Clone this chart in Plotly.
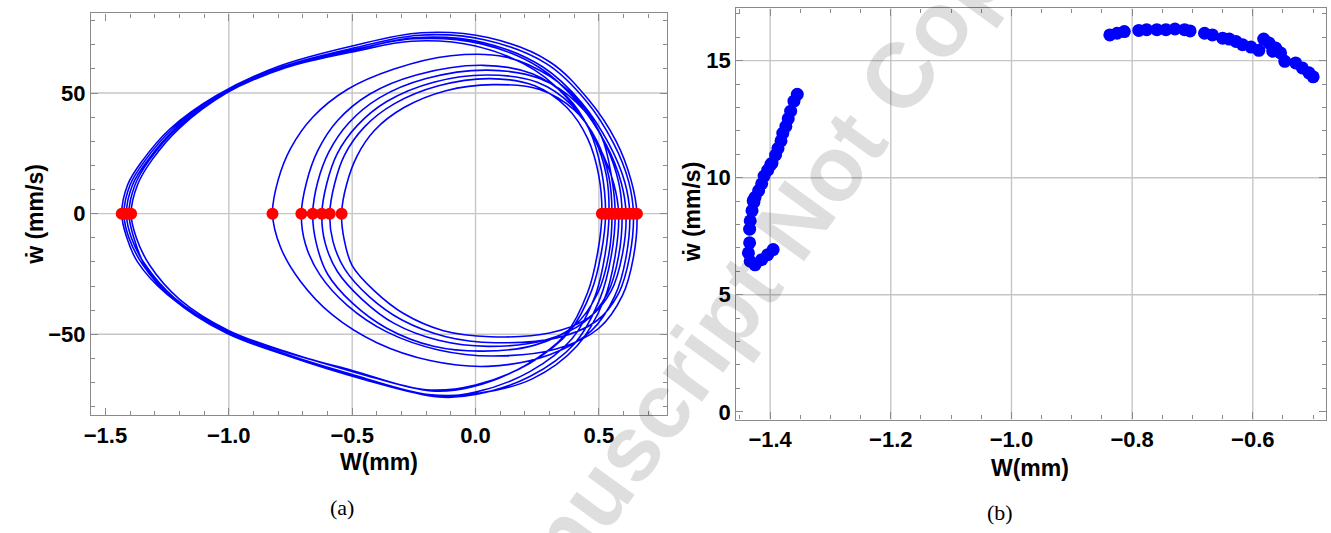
import plotly.graph_objects as go

# ---------------- (a) phase portrait ----------------
# turning points of the orbit (where dW/dt = 0), in the order the orbit visits them
turn_left = [-1.434, -0.706, -1.415, -0.591, -1.396, -0.823, -0.623, -1.425, -0.543, -0.660, -1.405]
turn_right = [0.654, 0.527, 0.640, 0.512, 0.625, 0.594, 0.541, 0.610, 0.553, 0.566, 0.580]

# upper half-orbits: (W, dW/dt) points between turn_left[i] and turn_right[i]
upper_arcs = [
    [(-1.41, 12), (-1.35, 22), (-1.24, 35), (-1.05, 49), (-0.80, 61), (-0.50, 69.5), (-0.22, 75), (0.05, 73), (0.30, 63), (0.46, 47), (0.57, 30), (0.63, 14)],
    [(-0.685, 13), (-0.64, 26), (-0.56, 38.5), (-0.43, 49.5), (-0.24, 57.5), (0.03, 61.5), (0.23, 58), (0.37, 48.5), (0.46, 35), (0.51, 18)],
    [(-1.39, 12), (-1.33, 22), (-1.22, 35), (-1.03, 49.5), (-0.78, 61), (-0.48, 69), (-0.23, 74), (0.04, 72), (0.29, 62), (0.45, 46.5), (0.56, 29), (0.62, 13.5)],
    [(-0.571, 12.5), (-0.53, 24.5), (-0.45, 36), (-0.33, 45.5), (-0.15, 53), (0.06, 56), (0.24, 53), (0.37, 44), (0.455, 31), (0.50, 15.5)],
    [(-1.37, 12), (-1.31, 22.5), (-1.20, 35.5), (-1.01, 50), (-0.76, 61.5), (-0.47, 68.5), (-0.24, 73), (0.03, 71), (0.27, 61), (0.43, 46), (0.54, 29), (0.605, 13)],
    [(-0.80, 14), (-0.75, 27), (-0.66, 40), (-0.52, 51.5), (-0.33, 60), (-0.10, 65.5), (0.12, 65), (0.30, 57), (0.44, 44), (0.53, 28), (0.58, 13)],
    [(-0.603, 12.5), (-0.56, 25), (-0.48, 36.5), (-0.36, 46.5), (-0.17, 54.5), (0.05, 57.5), (0.25, 54.5), (0.39, 45), (0.48, 31.5), (0.53, 16)],
    [(-1.40, 12), (-1.34, 22), (-1.23, 35), (-1.04, 49), (-0.79, 60.5), (-0.49, 68), (-0.25, 72.5), (0.02, 70.5), (0.26, 60.5), (0.42, 45.5), (0.53, 28.5), (0.59, 13)],
    [(-0.523, 12), (-0.48, 24), (-0.41, 34.5), (-0.29, 44), (-0.12, 51), (0.07, 53.5), (0.26, 51.5), (0.40, 43), (0.49, 30.5), (0.54, 15.5)],
    [(-0.64, 13), (-0.595, 25.5), (-0.515, 37.5), (-0.39, 48), (-0.20, 56), (0.05, 59.5), (0.26, 56), (0.41, 46), (0.51, 32), (0.55, 16)],
    [(-1.38, 12), (-1.32, 22.5), (-1.21, 35.5), (-1.02, 49.5), (-0.77, 60.5), (-0.48, 67.5), (-0.26, 71.5), (0.0, 69.5), (0.24, 59.5), (0.40, 44.5), (0.50, 28), (0.56, 12.5)],
]

# lower half-orbits: points between turn_right[i] and the next left turning point
lower_arcs = [
    [(0.64, -18), (0.595, -34), (0.50, -47.5), (0.33, -56), (0.07, -59), (-0.15, -56.5), (-0.36, -49), (-0.52, -38), (-0.63, -25.5), (-0.69, -12.5)],
    [(0.51, -16), (0.47, -32), (0.38, -49), (0.22, -62), (0.0, -71), (-0.2, -73), (-0.5, -65), (-0.78, -57), (-1.02, -48), (-1.22, -35), (-1.34, -21), (-1.395, -10)],
    [(0.625, -17.5), (0.58, -33), (0.49, -44.5), (0.33, -51.5), (0.08, -53.5), (-0.12, -51), (-0.30, -44), (-0.43, -34.5), (-0.53, -23), (-0.578, -11.5)],
    [(0.495, -16), (0.455, -32.5), (0.365, -50), (0.20, -63), (-0.02, -72), (-0.18, -73.5), (-0.48, -66), (-0.76, -57.5), (-1.00, -48.5), (-1.20, -35.5), (-1.32, -21.5), (-1.375, -10)],
    [(0.61, -18), (0.565, -34), (0.47, -48.5), (0.30, -58.5), (0.05, -63.3), (-0.18, -61), (-0.40, -53.5), (-0.58, -42), (-0.71, -28), (-0.79, -14)],
    [(0.58, -17.5), (0.535, -33), (0.44, -45), (0.28, -52.5), (0.05, -55), (-0.15, -52.5), (-0.33, -45.5), (-0.46, -35.5), (-0.56, -24), (-0.61, -12)],
    [(0.525, -17), (0.485, -34), (0.39, -52), (0.22, -65.5), (0.0, -74), (-0.16, -75.5), (-0.47, -68), (-0.77, -58.5), (-1.02, -49), (-1.23, -35), (-1.35, -21), (-1.405, -10)],
    [(0.595, -17), (0.55, -32), (0.46, -43), (0.30, -49.5), (0.06, -51), (-0.13, -48.5), (-0.29, -41.5), (-0.41, -32), (-0.50, -21.5), (-0.532, -11)],
    [(0.54, -17), (0.495, -33), (0.40, -46.5), (0.24, -54.5), (0.03, -57), (-0.17, -55), (-0.36, -47.5), (-0.50, -37), (-0.60, -25), (-0.645, -12.5)],
    [(0.55, -17.5), (0.505, -35), (0.40, -54), (0.22, -67.5), (0.0, -75), (-0.15, -76), (-0.46, -68.5), (-0.76, -59), (-1.01, -49.5), (-1.22, -35.5), (-1.34, -21.5), (-1.385, -10)],
    [(0.565, -18), (0.52, -36), (0.41, -55), (0.23, -68.5), (0.01, -74.5), (-0.19, -75), (-0.49, -67), (-0.79, -57.5), (-1.04, -47.5), (-1.25, -33.5), (-1.37, -20), (-1.415, -9.5)],
]

# ---------------- (b) Poincaré section ----------------
section_w = [
    -1.355, -1.3605, -1.366, -1.370, -1.374, -1.379, -1.382, -1.387, -1.391, -1.399,
    -1.404, -1.410, -1.414, -1.419, -1.425, -1.427, -1.430, -1.433, -1.434, -1.434,
    -1.436, -1.433, -1.425, -1.414, -1.404, -1.395, -1.428, -1.397,
    -0.837, -0.825, -0.813, -0.789, -0.776, -0.759, -0.744, -0.729, -0.713, -0.704,
    -0.680, -0.667, -0.650, -0.639, -0.628, -0.617, -0.603, -0.590, -0.582, -0.573,
    -0.562, -0.554, -0.547, -0.567, -0.529, -0.518, -0.507, -0.500,
]
section_wdot = [
    13.56, 13.27, 12.84, 12.52, 12.19, 11.90, 11.57, 11.25, 10.97, 10.56,
    10.32, 10.07, 9.74, 9.45, 9.16, 8.95, 8.59, 8.16, 7.80, 7.22,
    6.79, 6.43, 6.28, 6.50, 6.71, 6.93, 9.02, 10.62,
    16.10, 16.17, 16.24, 16.29, 16.32, 16.32, 16.32, 16.35, 16.32, 16.27,
    16.17, 16.10, 15.96, 15.92, 15.82, 15.68, 15.58, 15.44, 15.92, 15.75,
    15.54, 15.33, 14.97, 15.40, 14.90, 14.69, 14.48, 14.31,
]

# grid positions drawn for each panel
grid_a_x = [-1.0, -0.5, 0.0, 0.5]
grid_a_y = [-50, 0, 50]
grid_b_x = [-1.4, -1.2, -1.0, -0.8, -0.6]
grid_b_y = [5, 10, 15]

# assemble the continuous orbit
orbit_w, orbit_wdot = [], []
n = len(turn_left)
for i in range(n):
    orbit_w.append(turn_left[i]); orbit_wdot.append(0.0)
    for w, v in upper_arcs[i]:
        orbit_w.append(w); orbit_wdot.append(v)
    orbit_w.append(turn_right[i]); orbit_wdot.append(0.0)
    for w, v in lower_arcs[i]:
        orbit_w.append(w); orbit_wdot.append(v)
orbit_w.append(turn_left[0]); orbit_wdot.append(0.0)

BLUE = "#0000ff"
RED = "#ff0000"
FRAME = "#8a8a8a"
GRID = "#c6c6c6"
SANS = "Liberation Sans"

fig = go.Figure()
fig.add_trace(go.Scatter(
    x=orbit_w, y=orbit_wdot, mode="lines",
    line=dict(color=BLUE, width=1.6, shape="spline", smoothing=1.0),
    xaxis="x", yaxis="y", hoverinfo="skip"))
fig.add_trace(go.Scatter(
    x=turn_left + turn_right, y=[0.0] * (len(turn_left) + len(turn_right)),
    mode="markers", marker=dict(color=RED, size=12, line=dict(width=0)),
    xaxis="x", yaxis="y"))
fig.add_trace(go.Scatter(
    x=section_w, y=section_wdot, mode="markers",
    marker=dict(color=BLUE, size=13, line=dict(width=0)),
    xaxis="x2", yaxis="y2"))

W, H = 1331, 533

def axis_style(dtick, minor_dtick, fmt, rng, dom, anchor):
    return dict(
        range=rng, domain=dom, anchor=anchor, autorange=False,
        showgrid=False, zeroline=False,
        showline=True, linecolor=FRAME, linewidth=1.3, mirror="ticks",
        ticks="inside", ticklen=7, tickwidth=1.1, tickcolor=FRAME,
        tick0=0, dtick=dtick, tickformat=fmt,
        minor=dict(dtick=minor_dtick, tick0=0, ticks="inside", ticklen=4,
                   tickwidth=1, tickcolor=FRAME, showgrid=False),
        tickfont=dict(family=SANS, size=22, color="black", weight="bold"),
    )

fig.update_layout(
    width=W, height=H, autosize=False,
    margin=dict(l=0, r=0, t=0, b=0),
    paper_bgcolor="white", plot_bgcolor="white",
    showlegend=False,
    xaxis=axis_style(0.5, 0.1, ".1f", [-1.558, 0.776], [84.6 / W, 663.5 / W], "y"),
    yaxis=axis_style(50, 10, "d", [-83.5, 83.0], [1 - 419 / H, 1 - 13.6 / H], "x"),
    xaxis2=axis_style(0.2, 0.05, ".1f", [-1.456, -0.478], [733.2 / W, 1326.4 / W], "y2"),
    yaxis2=axis_style(5, 1, "d", [-0.33, 17.23], [1 - 423.5 / H, 1 - 8.5 / H], "x2"),
)

shapes = []
for gx in grid_a_x:
    shapes.append(dict(type="line", xref="x", yref="y domain", x0=gx, x1=gx, y0=0, y1=1,
                       line=dict(color=GRID, width=1.4), layer="below"))
for gy in grid_a_y:
    shapes.append(dict(type="line", xref="x domain", yref="y", x0=0, x1=1, y0=gy, y1=gy,
                       line=dict(color=GRID, width=1.4), layer="below"))
for gx in grid_b_x:
    shapes.append(dict(type="line", xref="x2", yref="y2 domain", x0=gx, x1=gx, y0=0, y1=1,
                       line=dict(color=GRID, width=1.4), layer="below"))
for gy in grid_b_y:
    shapes.append(dict(type="line", xref="x2 domain", yref="y2", x0=0, x1=1, y0=gy, y1=gy,
                       line=dict(color=GRID, width=1.4), layer="below"))
fig.update_layout(shapes=shapes)

title_font = dict(family=SANS, size=23, color="black", weight="bold")
cap_font = dict(family="Liberation Serif", size=22, color="black")

annotations = [
    dict(text="Accepted Manuscript Not Copyedited", x=690 / W, y=1 - 362 / H,
         xref="paper", yref="paper", showarrow=False, textangle=-54,
         xanchor="center", yanchor="middle",
         font=dict(family=SANS, size=92, color="rgba(0,0,0,0.13)", weight="bold")),
    dict(text="ẇ (mm/s)", x=28 / W, y=1 - 216 / H, textangle=-90, font=title_font),
    dict(text="ẇ (mm/s)", x=689 / W, y=1 - 214 / H, textangle=-90, font=title_font),
    dict(text="W(mm)", x=373.5 / W, y=1 - 466 / H, font=title_font),
    dict(text="W(mm)", x=1028 / W, y=1 - 472 / H, font=title_font),
    dict(text="(a)", x=336.5 / W, y=1 - 512 / H, font=cap_font),
    dict(text="(b)", x=998.6 / W, y=1 - 517 / H, font=cap_font),
]
for a in annotations[1:]:
    a.update(xref="paper", yref="paper", showarrow=False, xanchor="center", yanchor="middle")
fig.update_layout(annotations=annotations)

fig.write_html("out.html")
